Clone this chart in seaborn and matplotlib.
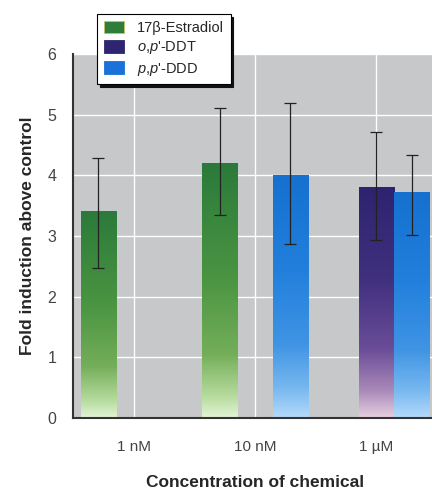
import numpy as np
import pandas as pd
import matplotlib
matplotlib.use("Agg")
import matplotlib.pyplot as plt
import seaborn as sns
from matplotlib.colors import LinearSegmentedColormap
from matplotlib.patches import Patch

# data
concentrations = ["1 nM", "10 nM", "1 \u00b5M"]
chemicals = ["17\u03b2-Estradiol", "o,p'-DDT", "p,p'-DDD"]
bar_conc = ["1 nM", "10 nM", "10 nM", "1 \u00b5M", "1 \u00b5M"]
bar_chem = ["17\u03b2-Estradiol", "17\u03b2-Estradiol", "p,p'-DDD", "o,p'-DDT", "p,p'-DDD"]
fold = [3.41, 4.20, 4.01, 3.81, 3.73]
err_low = [2.47, 3.35, 2.87, 2.93, 3.02]
err_high = [4.29, 5.11, 5.19, 4.71, 4.33]

legend_labels = ["17\u03b2-Estradiol", r"$\mathit{o{,}p}$'-DDT", r"$\mathit{p{,}p}$'-DDD"]

df = pd.DataFrame({"conc": bar_conc, "chem": bar_chem, "fold": fold,
                   "lo": err_low, "hi": err_high})

# gradient colours, bottom -> top (position, colour)
gradients = {
    "17\u03b2-Estradiol": [(0, "#e2f5d6"), (0.08, "#b8dca0"), (0.25, "#74ae58"),
                           (0.55, "#4a9442"), (1, "#2b7a3a")],
    "o,p'-DDT": [(0, "#e6cfdf"), (0.12, "#a888b8"), (0.3, "#6a4c98"),
                 (0.6, "#40307e"), (1, "#2e2370")],
    "p,p'-DDD": [(0, "#b4dafa"), (0.12, "#78b8f0"), (0.3, "#4094e4"),
                 (0.6, "#2280dc"), (1, "#1570d0")],
}
solid = {"17\u03b2-Estradiol": "#2e7d3a", "o,p'-DDT": "#2e2570", "p,p'-DDD": "#1a72d8"}

sns.set_style("white")
plt.rcParams["font.family"] = ["Liberation Sans", "DejaVu Sans"]
plt.rcParams["mathtext.fontset"] = "custom"
plt.rcParams["mathtext.it"] = "Liberation Sans:italic"
plt.rcParams["mathtext.rm"] = "Liberation Sans"

fig = plt.figure(figsize=(4.32, 4.91), dpi=100)
ax = fig.add_axes([73 / 432, 73 / 491, 364 / 432, 364 / 491])
ax.set_facecolor("#c6c8c9")

sns.barplot(data=df, x="conc", y="fold", hue="chem", order=concentrations,
            hue_order=chemicals, palette=solid, width=0.87, errorbar=None,
            legend=False, ax=ax)

# gradient fills and error bars
for cont, chem in zip(ax.containers, chemicals):
    sub = df[df["chem"] == chem].copy()
    sub["order"] = sub["conc"].map(concentrations.index)
    sub = sub.sort_values("order")
    cmap = LinearSegmentedColormap.from_list(chem, gradients[chem])
    for bar, (_, row) in zip(cont, sub.iterrows()):
        x0, w, h = bar.get_x(), bar.get_width(), bar.get_height()
        grad = np.linspace(0, 1, 256).reshape(-1, 1)
        im = ax.imshow(grad, extent=[x0, x0 + w, 0, h], origin="lower",
                       aspect="auto", cmap=cmap, zorder=2)
        im.set_clip_path(bar)
        bar.set_facecolor("none")
        bar.set_edgecolor("#c8c060" if chem == chemicals[0] else "none")
        bar.set_linewidth(0.6)
        xc = x0 + w / 2
        ax.errorbar(xc, row["fold"],
                    yerr=[[row["fold"] - row["lo"]], [row["hi"] - row["fold"]]],
                    fmt="none", ecolor="#222222", elinewidth=0.9,
                    capsize=4, capthick=0.9, zorder=4)

ax.set_xlim(-0.5, 2.5)
ax.set_ylim(0, 6)
ax.set_yticks(range(0, 7))
ax.set_axisbelow(True)
ax.grid(True, color="white", linewidth=1.0)
ax.tick_params(length=0, labelsize=11.5, labelcolor="#444444", pad=12)
ax.tick_params(axis="x", pad=16, labelsize=11)
for s in ["top", "right"]:
    ax.spines[s].set_visible(False)
for s in ["left", "bottom"]:
    ax.spines[s].set_color("#333333")
    ax.spines[s].set_linewidth(1.5)

ax.set_xlabel("Concentration of chemical", fontsize=12.5, fontweight="bold",
              labelpad=15)
ax.set_ylabel("Fold induction above control", fontsize=12.5, fontweight="bold",
              labelpad=9)

handles = [Patch(facecolor=solid[c], edgecolor="#c8c060" if i == 0 else solid[c],
                 linewidth=0.6) for i, c in enumerate(chemicals)]
leg = ax.legend(handles, legend_labels, loc="upper left",
                bbox_to_anchor=(97 / 432, 1 - 14 / 491),
                bbox_transform=fig.transFigure, fontsize=10.5,
                frameon=True, fancybox=False, edgecolor="black",
                shadow={"color": "#111111", "alpha": 1},
                handlelength=1.4, handleheight=0.95, labelspacing=0.3,
                borderpad=0.45, borderaxespad=0, handletextpad=0.9)
leg.get_frame().set_linewidth(0.8)
leg.set_zorder(10)

fig.savefig("out.png", dpi=100)
